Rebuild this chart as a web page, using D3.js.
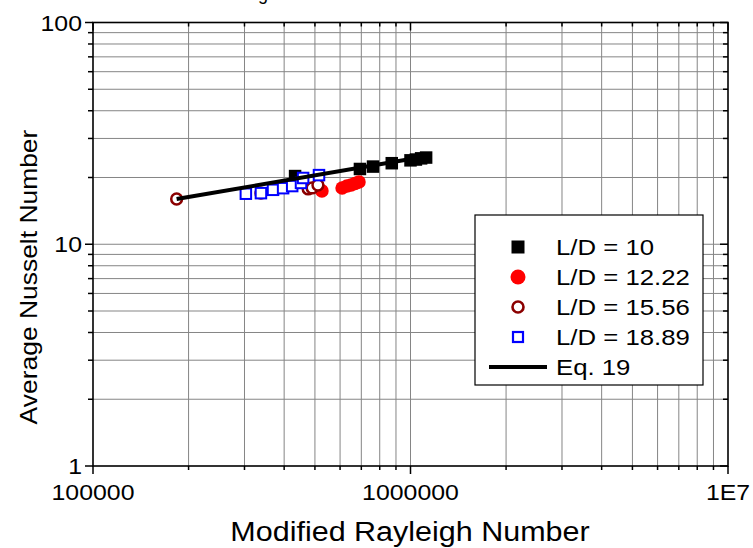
<!DOCTYPE html>
<html>
<head>
<meta charset="utf-8">
<script src="https://cdn.jsdelivr.net/npm/d3@7"></script>
<style>
  body { margin: 0; background: #fff; }
  svg { display: block; font-family: "Liberation Sans", Arial, sans-serif; }
</style>
</head>
<body>
<svg id="chart" width="753" height="548"></svg>
<script>
// data (Rayleigh, Nusselt)
const ld10Ra = [4.33e5, 6.93e5, 7.62e5, 8.73e5, 1.0e6, 1.04e6, 1.08e6, 1.12e6];
const ld10Nu = [20.3, 21.85, 22.4, 23.2, 23.9, 24.1, 24.4, 24.6];
const ld1222Ra = [5.26e5, 6.09e5, 6.31e5, 6.5e5, 6.69e5, 6.88e5];
const ld1222Nu = [17.4, 17.94, 18.3, 18.5, 18.8, 19.1];
const ld1556Ra = [1.834e5, 3.38e5, 4.76e5, 4.9e5, 5.11e5];
const ld1556Nu = [16.0, 17.0, 17.76, 17.94, 18.5];
const ld1889Ra = [3.03e5, 3.38e5, 3.69e5, 3.97e5, 4.24e5, 4.52e5, 4.59e5, 5.15e5];
const ld1889Nu = [16.9, 17.0, 17.6, 17.9, 18.3, 18.9, 19.9, 20.5];
const eqRa = [1.834e5, 1.136e6];
const eqNu = [16.0, 25.0];

const xTickVals = [1e5, 1e6, 1e7];
const xTickLabels = ["100000", "1000000", "1E7"];
const yTickVals = [1, 10, 100];
const yTickLabels = ["1", "10", "100"];
const legendLabels = ["L/D = 10", "L/D = 12.22", "L/D = 15.56", "L/D = 18.89", "Eq. 19"];

const svg = d3.select("#chart");
const pLeft = 93, pRight = 728, pTop = 22.5, pBottom = 466;

const x = d3.scaleLog().domain([1e5, 1e7]).range([pLeft, pRight]);
const y = d3.scaleLog().domain([1, 100]).range([pBottom, pTop]);

// the original font is a bit wider than Arial, so stretch along the text
const stretch = 1.13;
function label(parent, px, py, str, anchor, size, rot) {
  const g = parent.append("g")
    .attr("transform", `translate(${px},${py}) rotate(${rot || 0}) scale(${stretch},1)`);
  return g.append("text").attr("text-anchor", anchor).style("font-size", size + "px").text(str);
}

// minor values for grid and ticks
const xMinor = [], yMinor = [];
[1e5, 1e6].forEach(d => { for (let k = 2; k <= 9; k++) xMinor.push(d * k); });
[1, 10].forEach(d => { for (let k = 2; k <= 9; k++) yMinor.push(d * k); });

// top title, mostly cut off by the window
svg.append("text").attr("x", 243).attr("y", 0).style("font-size", "18px").attr("fill", "#000").text("Fig.");
svg.append("text").attr("x", 318).attr("y", 0).style("font-size", "18px").attr("fill", "#aaa")
  .text("Variation of Nusselt Number");

// grid
const grid = svg.append("g").attr("stroke", "#858585").attr("stroke-width", 1);
xMinor.concat([1e6]).forEach(v => {
  grid.append("line").attr("x1", x(v)).attr("x2", x(v)).attr("y1", pTop).attr("y2", pBottom);
});
yMinor.concat([10]).forEach(v => {
  grid.append("line").attr("x1", pLeft).attr("x2", pRight).attr("y1", y(v)).attr("y2", y(v));
});

// frame
svg.append("rect").attr("x", pLeft).attr("y", pTop).attr("width", pRight - pLeft).attr("height", pBottom - pTop)
  .attr("fill", "none").attr("stroke", "#000").attr("stroke-width", 1.6);

// ticks: outward on left/bottom, inward on top/right
const ticks = svg.append("g").attr("stroke", "#000").attr("stroke-width", 1.5);
xTickVals.forEach(v => {
  ticks.append("line").attr("x1", x(v)).attr("x2", x(v)).attr("y1", pBottom).attr("y2", pBottom + 8);
  ticks.append("line").attr("x1", x(v)).attr("x2", x(v)).attr("y1", pTop).attr("y2", pTop + 8);
});
xMinor.forEach(v => {
  ticks.append("line").attr("x1", x(v)).attr("x2", x(v)).attr("y1", pBottom).attr("y2", pBottom + 4);
  ticks.append("line").attr("x1", x(v)).attr("x2", x(v)).attr("y1", pTop).attr("y2", pTop + 4);
});
yTickVals.forEach(v => {
  ticks.append("line").attr("x1", pLeft - 8).attr("x2", pLeft).attr("y1", y(v)).attr("y2", y(v));
  ticks.append("line").attr("x1", pRight - 8).attr("x2", pRight).attr("y1", y(v)).attr("y2", y(v));
});
yMinor.forEach(v => {
  ticks.append("line").attr("x1", pLeft - 5).attr("x2", pLeft).attr("y1", y(v)).attr("y2", y(v));
  ticks.append("line").attr("x1", pRight - 5).attr("x2", pRight).attr("y1", y(v)).attr("y2", y(v));
});

// tick labels
xTickVals.forEach((v, i) => {
  label(svg, x(v), pBottom + 34, xTickLabels[i], "middle", 22);
});
yTickVals.forEach((v, i) => {
  label(svg, pLeft - 11, y(v) + 8, yTickLabels[i], "end", 22);
});

// axis titles
label(svg, 410, 541, "Modified Rayleigh Number", "middle", 27);
label(svg, 37, 277, "Average Nusselt Number", "middle", 23.4, -90);

// markers
function squares(ra, nu, fill, stroke, size, sw) {
  svg.append("g").selectAll("rect").data(ra).enter().append("rect")
    .attr("x", (d) => x(d) - size / 2)
    .attr("y", (d, i) => y(nu[i]) - size / 2)
    .attr("width", size).attr("height", size)
    .attr("fill", fill).attr("stroke", stroke).attr("stroke-width", sw);
}
function circles(ra, nu, fill, stroke, r, sw) {
  svg.append("g").selectAll("circle").data(ra).enter().append("circle")
    .attr("cx", (d) => x(d))
    .attr("cy", (d, i) => y(nu[i]))
    .attr("r", r)
    .attr("fill", fill).attr("stroke", stroke).attr("stroke-width", sw);
}

squares(ld10Ra, ld10Nu, "#000", "none", 12.5, 0);
circles(ld1222Ra, ld1222Nu, "#ff0000", "none", 6.8, 0);
circles(ld1556Ra, ld1556Nu, "#fff", "#8b0000", 5.4, 2.5);
squares(ld1889Ra, ld1889Nu, "#fff", "#0000ff", 10.5, 2);

// Eq. 19 line
const line = d3.line().x((d) => x(d)).y((d, i) => y(eqNu[i]));
svg.append("path").datum(eqRa).attr("d", line).attr("fill", "none")
  .attr("stroke", "#000").attr("stroke-width", 4);

// legend
const lg = svg.append("g");
lg.append("rect").attr("x", 475).attr("y", 215).attr("width", 228).attr("height", 170)
  .attr("fill", "#fff").attr("stroke", "#000").attr("stroke-width", 1.2);
const rowY = [247, 277, 307, 337, 367];
const mx = 518;
lg.append("rect").attr("x", mx - 6.5).attr("y", rowY[0] - 6.5).attr("width", 13).attr("height", 13).attr("fill", "#000");
lg.append("circle").attr("cx", mx).attr("cy", rowY[1]).attr("r", 7.5).attr("fill", "#ff0000");
lg.append("circle").attr("cx", mx).attr("cy", rowY[2]).attr("r", 5.5).attr("fill", "#fff")
  .attr("stroke", "#8b0000").attr("stroke-width", 2.6);
lg.append("rect").attr("x", mx - 5).attr("y", rowY[3] - 5).attr("width", 10).attr("height", 10)
  .attr("fill", "#fff").attr("stroke", "#0000ff").attr("stroke-width", 2.2);
lg.append("line").attr("x1", 489).attr("x2", 547).attr("y1", rowY[4]).attr("y2", rowY[4])
  .attr("stroke", "#000").attr("stroke-width", 4);
legendLabels.forEach((t, i) => {
  label(lg, 556, rowY[i] + 8, t, "start", 22.8);
});
</script>
</body>
</html>
